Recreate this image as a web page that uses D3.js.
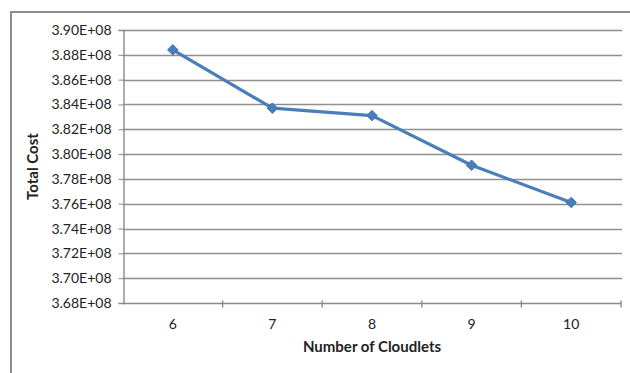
<!DOCTYPE html>
<html>
<head>
<meta charset="utf-8">
<script src="https://cdn.jsdelivr.net/npm/d3@7"></script>
<style>
  html, body { margin: 0; padding: 0; background: #fff; }
  svg { display: block; }
  text { font-family: Lato, "Open Sans", sans-serif; fill: #222; }
</style>
</head>
<body>
<svg id="chart" width="630" height="373"></svg>
<script>
// Total cost by number of cloudlets
const cloudlets = [6, 7, 8, 9, 10];
const totalCost = [3.884e8, 3.837e8, 3.831e8, 3.791e8, 3.761e8];
const yTicks = [3.68e8, 3.70e8, 3.72e8, 3.74e8, 3.76e8, 3.78e8, 3.80e8, 3.82e8, 3.84e8, 3.86e8, 3.88e8, 3.90e8];

const svg = d3.select("#chart");
const plot = { left: 123, right: 621, top: 30, bottom: 303 };

// outer chart frame (top and left edges visible)
svg.append("path")
  .attr("d", `M11,${373} L11,12 L630,12`)
  .attr("fill", "none")
  .attr("stroke", "#8c8c8c")
  .attr("stroke-width", 2);

const x = d3.scaleBand()
  .domain(cloudlets)
  .range([plot.left, plot.right])
  .paddingInner(0).paddingOuter(0);

const y = d3.scaleLinear()
  .domain([3.68e8, 3.90e8])
  .range([plot.bottom, plot.top]);

const fmt = v => (v / 1e8).toFixed(2) + "E+08";

// horizontal gridlines
svg.append("g")
  .selectAll("line")
  .data(yTicks.slice(1))
  .join("line")
  .attr("x1", plot.left)
  .attr("x2", plot.right + 1)
  .attr("y1", d => Math.round(y(d)) + 0.5)
  .attr("y2", d => Math.round(y(d)) + 0.5)
  .attr("stroke", "#8f8f8f")
  .attr("stroke-width", 1.6);

// y axis
const yAxis = d3.axisLeft(y)
  .tickValues(yTicks)
  .tickFormat(fmt)
  .tickSize(5)
  .tickPadding(7);
const gy = svg.append("g")
  .attr("transform", `translate(${plot.left + 0.5},0)`)
  .call(yAxis);
gy.select(".domain").attr("stroke", "#8a8a8a").attr("stroke-width", 1.4);
gy.selectAll(".tick line").attr("stroke", "#8a8a8a");
gy.selectAll(".tick text")
  .style("font-family", "Lato, 'Open Sans', sans-serif")
  .style("font-size", "14px")
  .attr("fill", "#3a3a3a");

// x axis (ticks on category boundaries)
const gx = svg.append("g")
  .attr("transform", `translate(0,${Math.round(y(3.68e8)) + 0.5})`);
gx.append("line")
  .attr("x1", plot.left).attr("x2", plot.right)
  .attr("stroke", "#8a8a8a").attr("stroke-width", 1.4);
const bounds = cloudlets.map(c => x(c)).concat([x(cloudlets[cloudlets.length - 1]) + x.bandwidth()]);
gx.selectAll("line.tk")
  .data(bounds.slice(1))
  .join("line")
  .attr("class", "tk")
  .attr("x1", d => d).attr("x2", d => d)
  .attr("y1", -3).attr("y2", 4)
  .attr("stroke", "#8a8a8a").attr("stroke-width", 1.4);
gx.selectAll("text")
  .data(cloudlets)
  .join("text")
  .attr("x", d => x(d) + x.bandwidth() / 2)
  .attr("y", 25)
  .attr("text-anchor", "middle")
  .style("font-size", "14px")
  .attr("fill", "#3a3a3a")
  .text(d => d);

// axis titles
svg.append("text")
  .attr("x", (plot.left + plot.right) / 2)
  .attr("y", 352)
  .attr("text-anchor", "middle")
  .style("font-size", "15px")
  .style("font-weight", "bold")
  .text("Number of Cloudlets");

svg.append("text")
  .attr("transform", `translate(38,${(plot.top + plot.bottom) / 2}) rotate(-90)`)
  .attr("text-anchor", "middle")
  .style("font-size", "15px")
  .style("font-weight", "bold")
  .text("Total Cost");

// series line
const pts = cloudlets.map((c, i) => [x(c) + x.bandwidth() / 2, y(totalCost[i])]);
svg.append("path")
  .attr("d", d3.line()(pts))
  .attr("fill", "none")
  .attr("stroke", "#4a7ebb")
  .attr("stroke-width", 3.2)
  .attr("stroke-linejoin", "round");

// diamond markers
svg.append("g")
  .selectAll("path")
  .data(pts)
  .join("path")
  .attr("transform", d => `translate(${d[0]},${d[1]})`)
  .attr("d", d3.symbol().type(d3.symbolDiamond2).size(70))
  .attr("fill", "#4a7ebb")
  .attr("stroke", "#3f72b0")
  .attr("stroke-width", 1);
</script>
</body>
</html>
